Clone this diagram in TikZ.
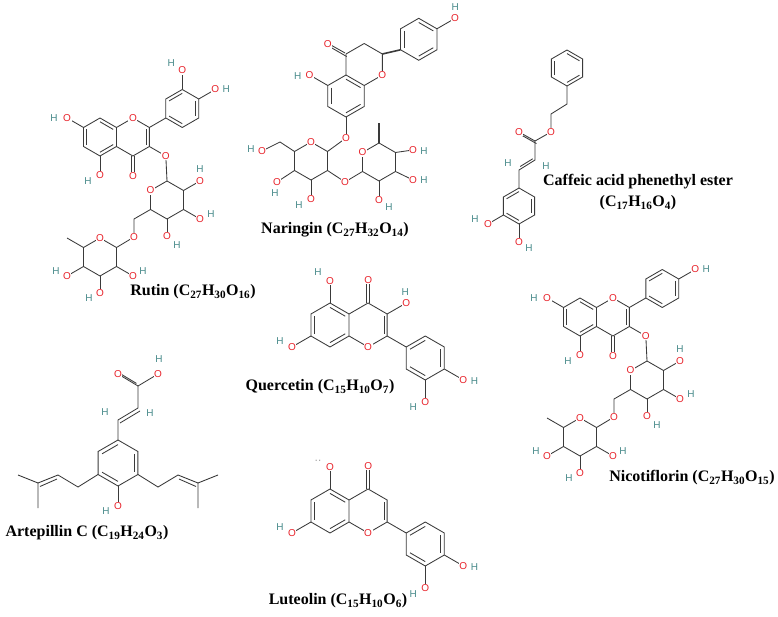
\documentclass[tikz,border=0pt]{standalone}
\usepackage{fontspec}
\setmainfont{Liberation Serif}
\newfontfamily\atomfam{Liberation Sans}
\usetikzlibrary{calc}
\definecolor{ored}{HTML}{E8222A}
\definecolor{hteal}{HTML}{4A8C8C}
\definecolor{bondc}{HTML}{3A3A3A}
\newcommand\arom[3]{\draw[bond] (#1) +(30:#2)--+(90:#2)--+(150:#2)--+(210:#2)--+(270:#2)--+(330:#2)--cycle;
 \foreach \a in {#3}{\draw[bond] ($(#1)+(\a:0.8*#2)$)--($(#1)+(\a+60:0.8*#2)$);}}
\newcommand\oh[4]{\draw[bond] (#1)--(#2); \node[ol] at (#2) {O}; \node[hl,xshift=#3,yshift=#4] at (#2) {H};}
\newcommand\flavcore{%
 \arom{0,0}{1}{30,150,270}
 \draw[bond] (0.866,0.5)--(1.732,1)--(2.598,0.5)--(2.598,-0.5)--(1.732,-1)--(0.866,-0.5);
 \draw[bond] (2.46,0.4)--(2.46,-0.4);
 \draw[bond] (1.67,1)--(1.67,2) (1.80,1)--(1.80,2);
 \draw[bond] (2.598,-0.5)--(3.464,-1);
 \arom{4.33,-1.5}{1}{90,210,330}
 \node[ol] at (1.732,-1){O}; \node[ol] at (1.735,2.05){O};}
\newcommand\glyco{%
 \coordinate (g1) at (167,181); \coordinate (g2) at (183.5,190.5); \coordinate (g3) at (183.5,209.5);
 \coordinate (g4) at (167,219); \coordinate (g5) at (150.5,209.5); \coordinate (gO) at (150.5,190.5);
 \coordinate (c6) at (134,219); \coordinate (o6) at (134,237);
 \coordinate (rO) at (100,238); \coordinate (r1) at (116.5,247.5); \coordinate (r2) at (116.5,266.5);
 \coordinate (r3) at (100,276); \coordinate (r4) at (83.5,266.5); \coordinate (r5) at (83.5,247.5);
 \draw[bond] (g1)--(g2)--(g3)--(g4)--(g5)--(gO)--cycle;
 \draw[bond] (o3)--(g1);
 \draw[bond] (g5)--(c6)--(o6)--(r1);
 \draw[bond] (rO)--(r1)--(r2)--(r3)--(r4)--(r5)--cycle;
 \draw[bond] (r5)--(67,238);
 \node[ol] at (o3){O}; \node[ol] at (gO){O}; \node[ol] at (o6){O}; \node[ol] at (rO){O};
 \oh{g2}{200,181}{0pt}{12pt}
 \oh{g3}{200,219}{11pt}{5pt}
 \oh{g4}{167,236}{10pt}{-9pt}
 \oh{r4}{67,276}{-11pt}{5pt}
 \oh{r3}{100,293}{-11pt}{-5pt}
 \oh{r2}{133,276}{10pt}{5pt}}
\begin{document}
\begin{tikzpicture}[x=1pt,y=-1pt,
 bond/.style={line width=0.85pt,draw=bondc},
 ol/.style={text=ored,fill=white,inner sep=0.6pt,font=\atomfam\fontsize{10}{10}\selectfont},
 hl/.style={text=hteal,inner sep=0pt,font=\atomfam\fontsize{10}{10}\selectfont},
 ttl/.style={font=\fontsize{16}{18}\selectfont\bfseries,inner sep=1pt}]
\useasboundingbox[fill=white] (0,0) rectangle (778,617);

% ---------- Rutin ----------
\begin{scope}[name prefix=r-]
 \begin{scope}[shift={(100,137)},x=19pt,y=-19pt]
  \flavcore
  \coordinate (o3) at (3.464,1);
  \draw[bond] (2.598,0.5)--(o3);
  \oh{0,1}{0,2}{-12pt}{-6pt}
  \oh{-0.866,-0.5}{-1.732,-1}{-13pt}{0pt}
  \oh{5.196,-2}{6.062,-2.5}{11pt}{0pt}
  \oh{4.33,-2.5}{4.33,-3.5}{-11pt}{7pt}
 \end{scope}
 \glyco
\end{scope}
\node[ttl] (trutin) at (193,292) {Rutin (C\textsubscript{27}H\textsubscript{30}O\textsubscript{16})};

% ---------- Nicotiflorin ----------
\begin{scope}[name prefix=n-]
 \begin{scope}[shift={(580,317)},x=19pt,y=-19pt]
  \flavcore
  \coordinate (o3) at (3.464,1);
  \draw[bond] (2.598,0.5)--(o3);
  \oh{0,1}{0,2}{-12pt}{-6pt}
  \oh{-0.866,-0.5}{-1.732,-1}{-13pt}{0pt}
  \oh{5.196,-2}{6.062,-2.5}{11pt}{0pt}
 \end{scope}
 \begin{scope}[shift={(480,180)}]
  \glyco
 \end{scope}
\end{scope}
\node[ttl] (tnico) at (692,478) {Nicotiflorin (C\textsubscript{27}H\textsubscript{30}O\textsubscript{15})};

% ---------- Quercetin ----------
\begin{scope}[shift={(330,325)},x=22pt,y=22pt]
 \flavcore
 \oh{0,1}{0,2}{-12pt}{9pt}
 \oh{-0.866,-0.5}{-1.732,-1}{-12pt}{6pt}
 \oh{2.598,0.5}{3.464,1}{-1pt}{11pt}
 \oh{5.196,-2}{6.062,-2.5}{11pt}{-1pt}
 \oh{4.33,-2.5}{4.33,-3.5}{-12pt}{-5pt}
\end{scope}
\node[ttl] (tquer) at (320,387) {Quercetin (C\textsubscript{15}H\textsubscript{10}O\textsubscript{7})};

% ---------- Luteolin ----------
\begin{scope}[shift={(330,511)},x=22pt,y=22pt]
 \flavcore
 \draw[bond] (0,1)--(0,2); \node[ol] at (0,2){O};
 \node[hl,text=gray,xshift=-12pt,yshift=5pt] at (0,2) {··};
 \oh{-0.866,-0.5}{-1.732,-1}{-12pt}{6pt}
 \oh{5.196,-2}{6.062,-2.5}{11pt}{-1pt}
 \oh{4.33,-2.5}{4.33,-3.5}{-12pt}{-6pt}
\end{scope}
\node[ttl] (tlut) at (338,601) {Luteolin (C\textsubscript{15}H\textsubscript{10}O\textsubscript{6})};

% ---------- Naringin ----------
\begin{scope}[shift={(346,96)},x=21pt,y=21pt]
 \arom{0,0}{1}{30,150,270}
 \draw[bond] (0,1)--(0,2)--(0.866,2.5)--(1.732,2)--(1.732,1)--(0.866,0.5);
 \draw[bond] (-0.05,2.05)--(-0.85,2.5) (0.03,1.88)--(-0.8,2.36);
 \draw[bond,line width=1.6pt] (1.732,2)--(2.598,2.2);
 \arom{3.464,2.7}{1}{30,150,270}
 \node[ol] at (1.732,1){O};
 \node[ol] at (-0.866,2.45){O};
 \oh{4.33,3.2}{5.196,3.7}{0pt}{11pt}
 \oh{-0.866,0.5}{-1.732,1}{-12pt}{-1pt}
 \coordinate (n7o) at (0,-2);
 \draw[bond] (0,-1)--(n7o);
\end{scope}
\coordinate (ng1) at (327.5,151.5); \coordinate (ng2) at (327.5,170.5); \coordinate (ng3) at (311,180);
\coordinate (ng4) at (294.5,170.5); \coordinate (ng5) at (294.5,151.5); \coordinate (ngO) at (311,142);
\coordinate (nrO) at (362.5,152.5); \coordinate (nr1) at (362.5,171.5); \coordinate (nr2) at (379,181);
\coordinate (nr3) at (395.5,171.5); \coordinate (nr4) at (395.5,152.5); \coordinate (nr5) at (379,143);
\coordinate (nO2) at (345,182);
\draw[bond] (ngO)--(ng1)--(ng2)--(ng3)--(ng4)--(ng5)--cycle;
\draw[bond] (n7o)--(ng1);
\draw[bond] (ng2)--(nO2)--(nr1);
\draw[bond] (nrO)--(nr1)--(nr2)--(nr3)--(nr4)--(nr5)--cycle;
\draw[bond,line width=1.6pt] (nr5)--(379,123);
\draw[bond] (ng5)--(280,142);
\node[ol] at (n7o){O}; \node[ol] at (ngO){O}; \node[ol] at (nO2){O}; \node[ol] at (nrO){O};
\oh{280,142}{262,151}{-11pt}{2pt}
\oh{ng4}{277,182}{-2pt}{-11pt}
\oh{ng3}{311,199}{-12pt}{-6pt}
\oh{nr4}{413,150}{11pt}{-1pt}
\oh{nr3}{413,180}{11pt}{0pt}
\oh{nr2}{379,200}{10pt}{-7pt}
\node[ttl] (tnar) at (335,230) {Naringin (C\textsubscript{27}H\textsubscript{32}O\textsubscript{14})};

% ---------- Caffeic acid phenethyl ester ----------
\arom{567,68}{18}{30,150,270}
\coordinate (cp) at (567,86); \coordinate (ch1) at (567,104); \coordinate (ch2) at (551,114);
\coordinate (coe) at (551,132); \coordinate (cc) at (535,141); \coordinate (cod) at (519,132);
\coordinate (ca) at (535,160); \coordinate (cb) at (519,170); \coordinate (cr) at (519,188);
\draw[bond] (cp)--(ch1)--(ch2)--(coe)--(cc)--(ca)--(cb)--(cr);
\draw[bond] (cc)--(cod) ($(cc)+(1.5,2.6)$)--($(cod)+(1.5,2.6)$);
\draw[bond] ($(ca)+(-2.3,-1.2)$)--($(cb)+(1.2,-3.5)$);
\node[ol] at (coe){O}; \node[ol] at (cod){O};
\node[hl] at (508,163){H}; \node[hl] at (546,166){H};
\arom{519,206}{18}{90,210,330}
\oh{503.4,215}{488,224}{-13pt}{5pt}
\oh{519,224}{519,242}{10pt}{-6pt}
\node[ttl] (tcape) at (638,182) {Caffeic acid phenethyl ester};
\node[ttl] (tcape2) at (638,203) {(C\textsubscript{17}H\textsubscript{16}O\textsubscript{4})};

% ---------- Artepillin C ----------
\arom{118,463}{23}{90,210,330}
\coordinate (at) at (118,440); \coordinate (ab) at (118,420); \coordinate (aa) at (138,408);
\coordinate (ac) at (138,386); \coordinate (aod) at (118,374); \coordinate (aoh) at (158,374);
\draw[bond] (at)--(ab)--(aa)--(ac)--(aoh);
\draw[bond] ($(ab)+(2,3)$)--($(aa)+(2,3)$);
\draw[bond] (ac)--(aod) ($(ac)+(-1.5,-2.6)$)--($(aod)+(-1.5,-2.6)$);
\node[ol] at (aod){O}; \node[ol] at (aoh){O}; \node[hl] at (159,359){H};
\node[hl] at (105,412){H}; \node[hl] at (150,413){H};
\oh{118,486}{118,506}{-12pt}{-5pt}
\draw[bond] (98,474.5)--(78,487)--(58,475)--(38,483)--(18,475) (38,483)--(38,508);
\draw[bond] (57,479)--(40,486.5);
\draw[bond] (138,474.5)--(158,487)--(178,475)--(198,483)--(218,475) (198,483)--(198,508);
\draw[bond] (179,479)--(196,486.5);
\node[ttl] (tart) at (87,533) {Artepillin C (C\textsubscript{19}H\textsubscript{24}O\textsubscript{3})};
\end{tikzpicture}
\end{document}
